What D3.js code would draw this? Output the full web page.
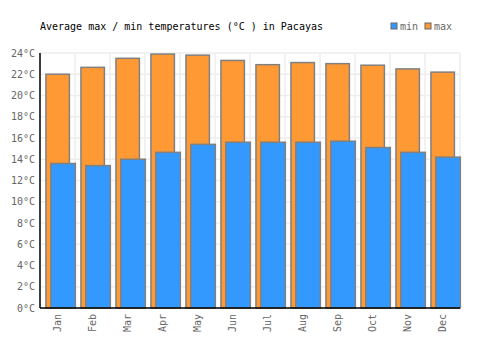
<!DOCTYPE html>
<html lang="en">
<head>
<meta charset="UTF-8">
<title>Pacayas temperatures</title>
<script src="https://d3js.org/d3.v7.min.js"></script>
<style>
    body { margin: 0; background: #fff; }
    text { font-family: "DejaVu Sans Mono", monospace; }
</style>
</head>
<body>
<div id="chart"></div>
<script>
    // monthly averages
    var months = ["Jan", "Feb", "Mar", "Apr", "May", "Jun", "Jul", "Aug", "Sep", "Oct", "Nov", "Dec"];
    var maxTemps = [22.0, 22.65, 23.5, 23.9, 23.8, 23.3, 22.9, 23.1, 23.0, 22.85, 22.5, 22.2];
    var minTemps = [13.6, 13.4, 14.0, 14.65, 15.4, 15.6, 15.6, 15.6, 15.7, 15.1, 14.65, 14.2];
    var yTicks = [0, 2, 4, 6, 8, 10, 12, 14, 16, 18, 20, 22, 24];

    var width = 500, height = 350;
    var margin = { top: 53, right: 40, bottom: 42, left: 40 };
    var innerW = width - margin.left - margin.right;
    var innerH = height - margin.top - margin.bottom;

    var svg = d3.select("#chart").append("svg")
        .attr("width", width)
        .attr("height", height);

    var g = svg.append("g")
        .attr("transform", "translate(" + margin.left + "," + margin.top + ")");

    var x = d3.scaleBand().domain(months).range([0, innerW]);
    var y = d3.scaleLinear().domain([0, 24]).range([innerH, 0]);
    var bw = x.bandwidth();

    // grid
    g.selectAll(".hgrid").data(yTicks).enter().append("line")
        .attr("x1", 0).attr("x2", innerW)
        .attr("y1", function(d) { return y(d); })
        .attr("y2", function(d) { return y(d); })
        .attr("stroke", "#eeeeee").attr("stroke-width", 1.5);

    g.selectAll(".vgrid").data(months.concat(["end"])).enter().append("line")
        .attr("x1", function(d, i) { return i * bw; })
        .attr("x2", function(d, i) { return i * bw; })
        .attr("y1", 0).attr("y2", innerH)
        .attr("stroke", "#eeeeee").attr("stroke-width", 1.5);

    // max bars
    g.selectAll(".max").data(maxTemps).enter().append("rect")
        .attr("x", function(d, i) { return x(months[i]) + bw * 0.17; })
        .attr("y", function(d) { return y(d); })
        .attr("width", bw * 0.67)
        .attr("height", function(d) { return innerH - y(d); })
        .attr("fill", "#ff9933")
        .attr("stroke", "#808080").attr("stroke-width", 1.5);

    // min bars
    g.selectAll(".min").data(minTemps).enter().append("rect")
        .attr("x", function(d, i) { return x(months[i]) + bw * 0.31; })
        .attr("y", function(d) { return y(d); })
        .attr("width", bw * 0.7)
        .attr("height", function(d) { return innerH - y(d); })
        .attr("fill", "#3399ff")
        .attr("stroke", "#808080").attr("stroke-width", 1.5);

    // axes
    g.append("line")
        .attr("x1", 0).attr("x2", 0).attr("y1", 0).attr("y2", innerH)
        .attr("stroke", "#000").attr("stroke-width", 1.5);
    g.append("line")
        .attr("x1", 0).attr("x2", innerW).attr("y1", innerH).attr("y2", innerH)
        .attr("stroke", "#000").attr("stroke-width", 1.5);

    g.selectAll(".ylab").data(yTicks).enter().append("text")
        .attr("x", -5)
        .attr("y", function(d) { return y(d); })
        .attr("dy", "0.35em")
        .attr("text-anchor", "end")
        .attr("fill", "#666")
        .style("font-size", "10px")
        .text(function(d) { return d + "°C"; });

    g.selectAll(".xlab").data(months).enter().append("text")
        .attr("transform", function(d) {
            return "translate(" + (x(d) + bw / 2) + "," + (innerH + 6) + ") rotate(-90)";
        })
        .attr("dy", "0.35em")
        .attr("text-anchor", "end")
        .attr("fill", "#666")
        .style("font-size", "10px")
        .text(function(d) { return d; });

    // title
    svg.append("text")
        .attr("x", 40).attr("y", 30)
        .attr("fill", "#000")
        .style("font-size", "10px")
        .text("Average max / min temperatures (°C ) in Pacayas");

    // legend
    var legend = [{ name: "min", color: "#3399ff", x: 391 }, { name: "max", color: "#ff9933", x: 425 }];
    var lg = svg.selectAll(".legend").data(legend).enter().append("g")
        .attr("transform", function(d) { return "translate(" + d.x + ",23)"; });
    lg.append("rect")
        .attr("width", 6).attr("height", 6)
        .attr("fill", function(d) { return d.color; })
        .attr("stroke", "#666").attr("stroke-width", 1);
    lg.append("text")
        .attr("x", 9).attr("y", 3).attr("dy", "0.35em")
        .attr("fill", "#666")
        .style("font-size", "10px")
        .text(function(d) { return d.name; });
</script>
</body>
</html>
